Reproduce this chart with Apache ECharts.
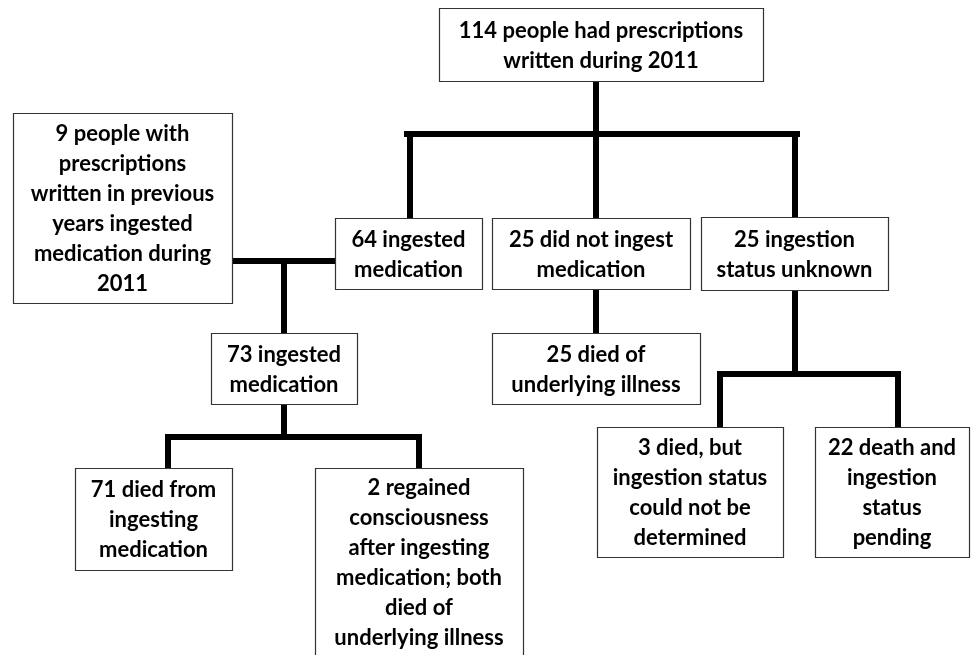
<!DOCTYPE html>
<html>
<head>
<meta charset="utf-8">
<script src="https://cdn.jsdelivr.net/npm/echarts@6/dist/echarts.min.js"></script>
<style>
  html, body { margin: 0; padding: 0; background: #fff; }
  #chart { width: 971px; height: 655px; }
</style>
</head>
<body>
<div id="chart"></div>
<script>
// box texts (line breaks as in the figure)
const boxText = [
  "114 people had prescriptions\nwritten during 2011",
  "9 people with\nprescriptions\nwritten in previous\nyears ingested\nmedication during\n2011",
  "64 ingested\nmedication",
  "25 did not ingest\nmedication",
  "25 ingestion\nstatus unknown",
  "73 ingested\nmedication",
  "25 died of\nunderlying illness",
  "3 died, but\ningestion status\ncould not be\ndetermined",
  "22 death and\ningestion\nstatus\npending",
  "71 died from\ningesting\nmedication",
  "2 regained\nconsciousness\nafter ingesting\nmedication; both\ndied of\nunderlying illness"
];
// box extents in page units
const boxX0 = [439, 13, 335, 492, 701, 211, 492, 597, 815, 75, 315];
const boxY0 = [8, 113, 218, 218, 217, 333, 333, 427, 427, 468, 468];
const boxX1 = [763, 232, 482, 690, 888, 357, 700, 783, 969, 232, 523];
const boxY1 = [81, 303, 289, 289, 290, 404, 404, 557, 557, 570, 656];

// connector segments
const segX0 = [596, 407, 410, 596, 795, 232, 284, 596, 795, 720, 720, 898, 284, 168, 168, 419];
const segY0 = [81, 134, 134, 134, 134, 261, 261, 289, 290, 374, 374, 374, 404, 437, 437, 437];
const segX1 = [596, 797, 410, 596, 795, 335, 284, 596, 795, 898, 720, 898, 284, 419, 168, 419];
const segY1 = [134, 134, 218, 218, 217, 261, 333, 333, 374, 374, 427, 427, 437, 437, 468, 468];

const FONT = 'bold 22px Lato, "Open Sans", sans-serif';

const boxData = boxText.map((t, i) => [boxX0[i], boxY0[i], boxX1[i], boxY1[i], t]);
const segData = segX0.map((x, i) => [x, segY0[i], segX1[i], segY1[i]]);

const chart = echarts.init(document.getElementById('chart'), null, { renderer: 'canvas' });

chart.setOption({
  animation: false,
  grid: { left: 0, right: 0, top: 0, bottom: 0 },
  xAxis: { type: 'value', min: 0, max: 971, show: false },
  yAxis: { type: 'value', min: 0, max: 655, inverse: true, show: false },
  series: [
    {
      type: 'custom',
      name: 'connectors',
      data: segData,
      renderItem: function (params, api) {
        const p0 = api.coord([api.value(0), api.value(1)]);
        const p1 = api.coord([api.value(2), api.value(3)]);
        return {
          type: 'line',
          shape: { x1: p0[0], y1: p0[1], x2: p1[0], y2: p1[1] },
          style: { stroke: '#000', lineWidth: 6, lineCap: 'square' }
        };
      },
      z: 1
    },
    {
      type: 'custom',
      name: 'boxes',
      data: boxData,
      renderItem: function (params, api) {
        const a = api.coord([api.value(0), api.value(1)]);
        const b = api.coord([api.value(2), api.value(3)]);
        const txt = boxText[params.dataIndex];
        return {
          type: 'group',
          children: [
            {
              type: 'rect',
              shape: { x: a[0] + 0.5, y: a[1] + 0.5, width: b[0] - a[0], height: b[1] - a[1] },
              style: { fill: '#fff', stroke: '#333', lineWidth: 1.2 }
            },
            {
              type: 'text',
              style: {
                text: txt,
                x: (a[0] + b[0]) / 2,
                y: (a[1] + b[1]) / 2 + 1,
                fill: '#000',
                font: FONT,
                lineHeight: 30,
                align: 'center',
                verticalAlign: 'middle'
              }
            }
          ]
        };
      },
      z: 2
    }
  ]
});
</script>
</body>
</html>
